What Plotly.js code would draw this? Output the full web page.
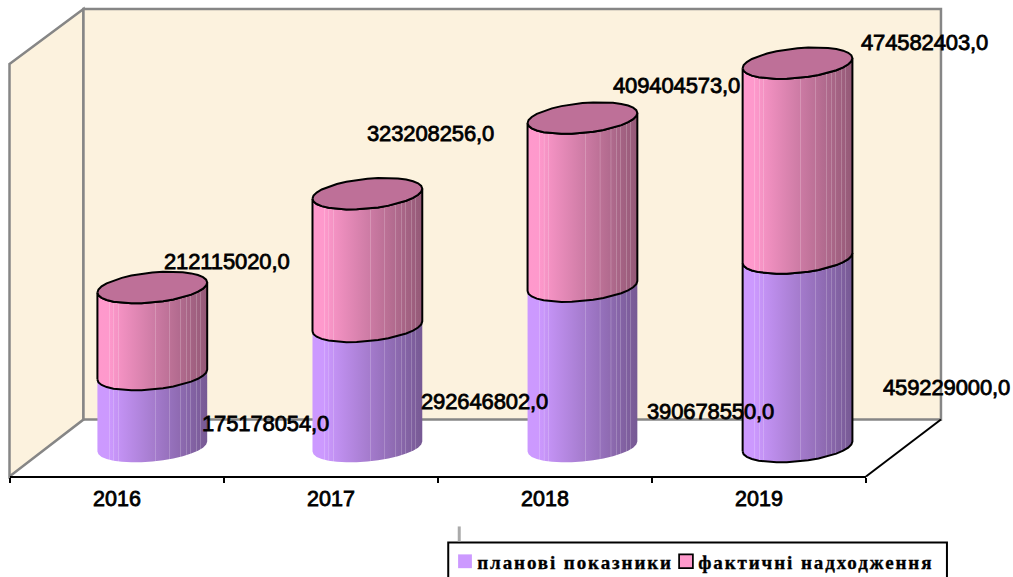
<!DOCTYPE html>
<html><head><meta charset="utf-8">
<script src="https://cdn.plot.ly/plotly-3.0.1.min.js"></script>
<style>
html,body{margin:0;padding:0;background:#fff;overflow:hidden}
.legendtext{letter-spacing:1.9px;stroke:#000;stroke-width:.35px}
.legendpoints{transform:translate(4.75px,0) scale(1.15)}
.legend .scrollbox{clip-path:none !important}
.annotation-text{letter-spacing:-0.12px;stroke:#000;stroke-width:.8px}
.xtick text{stroke:#000;stroke-width:.8px}
</style></head><body>
<div id="chart" style="width:1013px;height:577px"></div>
<script>
const years = ['2016','2017','2018','2019'];
const planned = [175178054, 292646802, 390678550, 459229000];
const actual = [212115020, 323208256, 409404573, 474582403];
const seriesNames = ['планові показники','фактичні надходження'];
const plannedLabels = ['175178054,0','292646802,0','390678550,0','459229000,0'];
const actualLabels = ['212115020,0','323208256,0','409404573,0','474582403,0'];

// plot-box geometry in pixels (styling, not data)
const W=1013,H=577,L=9.5,R=866,T=5,B=476.5,ZERO=447,PX_PER=0.411e-6;
const pw=R-L,ph=B-T;
const yLo=-(B-ZERO)/PX_PER, yHi=(ZERO-T)/PX_PER;
const depth=0.165, step=1.005, halfW=0.2565;
const bPx=15,sPx=5,b=bPx/PX_PER,s=sPx/PX_PER;
const px=(x,y)=>[(x-L)/pw,1-(y-T)/ph];
const poly=pts=>'M'+pts.map(p=>px(p[0],p[1]).join(',')).join(' L')+' Z';

const streaks=[.11,.15,.19,.53,.66,.76,.81,.85,.90,.94];
function scale(rgb){
  const k=u=>u<.1?1:1-.42*(u-.1)/.9;
  const c=u=>'rgb('+rgb.map(v=>Math.round(v*k(u))).join(',')+')';
  const lite=u=>'rgb('+rgb.map(v=>Math.round(v*k(u)+(255-v*k(u))*.2)).join(',')+')';
  const st=[[0,c(0)]];
  streaks.forEach(u=>{st.push([u-.005,c(u-.005)],[u-.004,lite(u)],[u+.004,lite(u)],[u+.005,c(u+.005)]);});
  st.push([1,c(1)]);
  return st;
}
const N=16;
// front (lower) and back (upper) halves of the tilted ellipse around a stack level
const front=(cx,cy,rev)=>{const a=[];for(let i=0;i<=N;i++){const t=Math.PI*i/N;const q=rev?Math.PI-t:t;a.push([cx-halfW*Math.cos(q),cy-b*Math.sin(q)-s*Math.cos(q)]);}return a;};
const back=(cx,cy)=>{const a=[];for(let i=0;i<=N;i++){const t=Math.PI*i/N;a.push([cx+halfW*Math.cos(t),cy+b*Math.sin(t)+s*Math.cos(t)]);}return a;};
function side(cx,y0,y1,rgb,outlined){
  const p=front(cx,y0,false).concat(front(cx,y1,true));p.push(p[0]);
  return {type:'scatter',mode:outlined?'lines':'none',xaxis:'x2',yaxis:'y',x:p.map(q=>q[0]),y:p.map(q=>q[1]),fill:'toself',
    fillgradient:{type:'horizontal',colorscale:scale(rgb)},line:{color:'#000',width:2},showlegend:false,hoverinfo:'skip'};
}
function cap(cx,y){
  const p=front(cx,y,false).concat(back(cx,y).slice(1));
  return {type:'scatter',mode:'lines',xaxis:'x2',yaxis:'y',x:p.map(q=>q[0]),y:p.map(q=>q[1]),fill:'toself',fillcolor:'#BE7098',
    line:{color:'#000',width:2},showlegend:false,hoverinfo:'skip'};
}
const traces=[
 {type:'bar',name:seriesNames[0],x:years,y:planned,width:.4,offset:depth-.2,marker:{color:'#CC99FF',line:{width:0}},hoverinfo:'skip'},
 {type:'bar',name:seriesNames[1],x:years,y:actual,width:.4,offset:depth-.2,marker:{color:'#FF99CC',line:{color:'#000',width:1.5}},hoverinfo:'skip'}
];
const plannedOutline=[false,false,false,true];
years.forEach((yr,i)=>{
  const cx=i*step+depth;
  traces.push(side(cx,0,planned[i],[204,153,255],plannedOutline[i]));
  traces.push(side(cx,planned[i],planned[i]+actual[i],[255,153,204],true));
  traces.push(cap(cx,planned[i]+actual[i]));
});
// label offsets in pixels from each segment's top at category centre
const plannedShift=[[148,-49],[153,-75],[165,-125],[187,-130]];
const actualShift=[[110,26],[99,60],[131,33],[165,21]];
const font={family:'"Liberation Sans",Arial,sans-serif',size:22,color:'#000'};
const annotations=[];
years.forEach((yr,i)=>{
  annotations.push({xref:'x2',yref:'y',x:i,y:planned[i],text:plannedLabels[i],showarrow:false,xshift:plannedShift[i][0],yshift:plannedShift[i][1],font});
  annotations.push({xref:'x2',yref:'y',x:i,y:planned[i]+actual[i],text:actualLabels[i],showarrow:false,xshift:actualShift[i][0],yshift:actualShift[i][1],font});
});
const grey={color:'#868686',width:2.5};
const shp=(pts,fill,line,layer)=>({type:'path',xref:'paper',yref:'paper',path:poly(pts),fillcolor:fill,line:line||{width:0},layer:layer||'below'});
const seg=(a,c,line)=>{const p=px(a[0],a[1]),q=px(c[0],c[1]);return {type:'line',xref:'paper',yref:'paper',x0:p[0],y0:p[1],x1:q[0],y1:q[1],line,layer:'below'};};
const rb=px(448,543),rt=px(947,600),g0=px(457.5,527),g1=px(460.5,542);
const shapes=[
 shp([[9,64],[83,9],[83,420],[9,477]],'#FCF2DE',grey),
 shp([[83,9],[941,9],[941,420],[83,420]],'#FCF2DE',grey),
 seg([941,420],[866,477],{color:'#000',width:2}),
 {type:'rect',xref:'paper',yref:'paper',x0:rb[0],y0:rb[1],x1:rt[0],y1:rt[1],fillcolor:'#fff',line:{color:'#000',width:2},layer:'above'},
 {type:'rect',xref:'paper',yref:'paper',x0:g0[0],y0:g0[1],x1:g1[0],y1:g1[1],fillcolor:'#aaa',line:{width:0},layer:'above'}
];
const lp=px(437,543);
const layout={
 width:W,height:H,margin:{l:L,r:W-R,t:T,b:H-B,pad:0,autoexpand:false},
 paper_bgcolor:'#fff',plot_bgcolor:'rgba(0,0,0,0)',barmode:'stack',showlegend:true,
 legend:{orientation:'h',x:lp[0],y:lp[1],xanchor:'left',yanchor:'top',traceorder:'normal',bgcolor:'rgba(0,0,0,0)',borderwidth:0,
   entrywidth:176,entrywidthmode:'pixels',
   font:{family:'"Liberation Serif","Times New Roman",serif',size:19,color:'#000',weight:700},itemclick:false,itemdoubleclick:false},
 xaxis:{type:'category',categoryorder:'array',categoryarray:years,range:[-.5,3.5],tickson:'boundaries',ticks:'outside',ticklen:5,tickwidth:2,tickcolor:'#000',ticklabelstandoff:2,
   showline:true,linecolor:'#000',linewidth:2,showgrid:false,zeroline:false,tickfont:{family:'"Liberation Sans",Arial,sans-serif',size:21.5,color:'#000'},fixedrange:true},
 xaxis2:{overlaying:'x',range:[-.5,3.5],visible:false,anchor:'y',fixedrange:true},
 yaxis:{range:[yLo,yHi],visible:false,fixedrange:true},
 shapes,annotations,hovermode:false
};
Plotly.newPlot('chart',traces,layout,{displayModeBar:false,staticPlot:true});
</script></body></html>
